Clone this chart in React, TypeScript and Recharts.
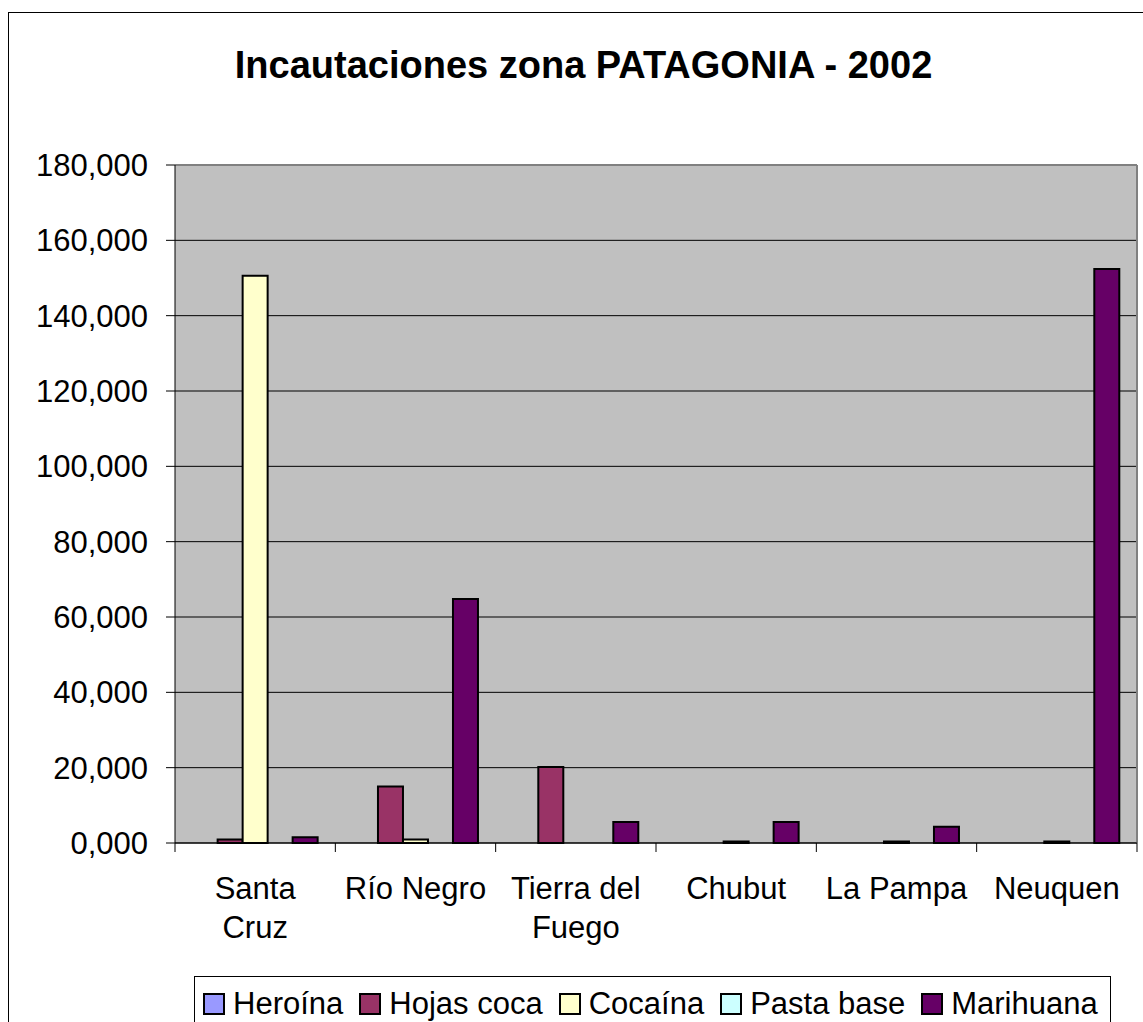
import { Bar, BarChart, CartesianGrid, XAxis, YAxis } from "recharts";

const categories = ["Santa\nCruz", "Río Negro", "Tierra del\nFuego", "Chubut", "La Pampa", "Neuquen"];
const heroina = [0, 0, 0, 0, 0, 0];
const hojasCoca = [0.9, 15.0, 20.2, 0, 0, 0];
const cocaina = [150.6, 0.9, 0, 0.4, 0.4, 0.4];
const pastaBase = [0, 0, 0, 0, 0, 0];
const marihuana = [1.5, 64.8, 5.6, 5.6, 4.3, 152.4];
const yTicks = [0, 20, 40, 60, 80, 100, 120, 140, 160, 180];

const seriesNames = ["Heroína", "Hojas coca", "Cocaína", "Pasta base", "Marihuana"];
const seriesKeys = ["heroina", "hojasCoca", "cocaina", "pastaBase", "marihuana"];
const seriesColors = ["#9999FF", "#993366", "#FFFFCC", "#CCFFFF", "#660066"];

const data = categories.map((label, i) => ({
  label,
  heroina: heroina[i],
  hojasCoca: hojasCoca[i],
  cocaina: cocaina[i],
  pastaBase: pastaBase[i],
  marihuana: marihuana[i]
}));

const FONT = '"Liberation Sans", Arial, sans-serif';
const W = 1143;
const H = 1022;
const PLOT_TOP = 165;
const PLOT_LEFT = 175;
const PLOT_RIGHT = 6;
const BAND = (W - PLOT_LEFT - PLOT_RIGHT) / categories.length;

function CategoryTick({ x, y, payload, index }: { x?: number; y?: number; payload?: { value: string }; index?: number }) {
  const lines = String(payload?.value ?? "").split("\n");
  const cx = Number(x);
  const cy = Number(y);
  const last = index === categories.length - 1;
  return (
    <g>
      <line x1={cx - BAND / 2} x2={cx - BAND / 2} y1={cy} y2={cy + 9} stroke="#000" />
      {last && <line x1={cx + BAND / 2} x2={cx + BAND / 2} y1={cy} y2={cy + 9} stroke="#000" />}
      <text x={cx} y={cy + 56} textAnchor="middle" fontSize={31} fontFamily={FONT} fill="#000">
        {lines.map((line, i) => (
          <tspan key={line} x={cx} dy={i === 0 ? 0 : 39}>
            {line}
          </tspan>
        ))}
      </text>
    </g>
  );
}

export default function App() {
  return (
    <div style={{ position: "fixed", left: 0, top: 0, width: W, height: H, overflow: "hidden", background: "#fff", fontFamily: FONT }}>
      <div style={{ position: "absolute", left: 8, top: 12, width: 1200, height: 1100, border: "1px solid #000" }} />
      <div style={{ position: "absolute", left: 0, top: 0 }}>
        <BarChart
          width={W}
          height={H}
          data={data}
          margin={{ top: PLOT_TOP, right: PLOT_RIGHT, bottom: 0, left: 0 }}
          barCategoryGap="11%"
          barGap={0}
        >
          <CartesianGrid fill="#C0C0C0" stroke="#000" vertical={false} />
          <CartesianGrid
            stroke="#808080"
            strokeWidth={2}
            horizontalPoints={[PLOT_TOP]}
            verticalPoints={[W - PLOT_RIGHT]}
          />
          <XAxis
            dataKey="label"
            interval={0}
            height={H - 843}
            tickLine={false}
            tickSize={0}
            tickMargin={0}
            axisLine={{ stroke: "#000" }}
            tick={<CategoryTick />}
          />
          <YAxis
            domain={[0, 180]}
            ticks={yTicks}
            width={PLOT_LEFT}
            tickSize={9}
            tickMargin={18}
            axisLine={{ stroke: "#000" }}
            tickLine={{ stroke: "#000" }}
            tick={{ fill: "#000", fontSize: 31, fontFamily: FONT }}
            tickFormatter={(v) => Number(v).toFixed(3).replace(".", ",")}
          />
          {seriesKeys.map((key, i) => (
            <Bar key={key} dataKey={key} name={seriesNames[i]} fill={seriesColors[i]} stroke="#000" strokeWidth={2} isAnimationActive={false} />
          ))}
        </BarChart>
      </div>
      <div style={{ position: "absolute", left: 0, width: 1167, top: 46, textAlign: "center", fontSize: 38, fontWeight: "bold", color: "#000", lineHeight: "38px" }}>
        Incautaciones zona PATAGONIA - 2002
      </div>
      <div
        style={{
          position: "absolute",
          left: 194,
          top: 976,
          height: 80,
          border: "1px solid #000",
          padding: "10px 12px 0 8px",
          display: "flex",
          alignItems: "flex-start",
          gap: 16,
          whiteSpace: "nowrap"
        }}
      >
        {seriesNames.map((name, i) => (
          <div key={name} style={{ display: "flex", alignItems: "center", gap: 8, fontSize: 31, lineHeight: "34px" }}>
            <span style={{ display: "inline-block", width: 18, height: 18, background: seriesColors[i], border: "2px solid #000" }} />
            <span>{name}</span>
          </div>
        ))}
      </div>
    </div>
  );
}
